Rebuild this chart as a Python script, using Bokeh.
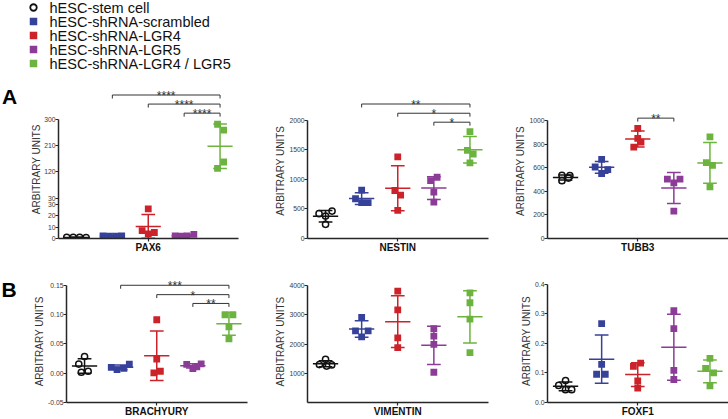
import math
import numpy as np
from bokeh.plotting import figure
from bokeh.models import Range1d, FixedTicker, CustomJSTickFormatter
from bokeh.layouts import row, column
from bokeh.core.properties import value
from bokeh.embed import file_html
from bokeh.resources import INLINE

# ---------------- data ----------------
GROUPS = ["hESC-stem cell", "hESC-shRNA-scrambled", "hESC-shRNA-LGR4",
          "hESC-shRNA-LGR5", "hESC-shRNA-LGR4 / LGR5"]
Y_TITLE = "ARBITRARY UNITS"

PAX6_VALUES = [[1.0, 1.0, 1.0, 0.9], [2.2, 2.0, 2.1, 2.4], [26.2, 7.0, 4.0, 5.3],
               [2.2, 2.0, 2.2, 3.6], [282, 262, 153, 131]]
PAX6_JITTER = [[-0.27, -0.09, 0.09, 0.27], [-0.26, -0.08, 0.1, 0.26], [0.0, -0.17, 0.0, 0.17],
               [-0.25, -0.08, 0.08, 0.27], [-0.07, 0.1, 0.1, -0.07]]
PAX6_TICKS_LOW = [0, 10, 20, 30]
PAX6_TICKS_HIGH = [30, 120, 210, 300]
PAX6_SIG = [(2, 5, "****", 382), (3, 5, "****", 351), (4, 5, "****", 320)]

NESTIN_VALUES = [[419, 379, 463, 240], [815, 671, 604, 604], [1376, 810, 732, 475],
                 [978, 1034, 782, 614], [1805, 1487, 1426, 1275]]
NESTIN_JITTER = [[-0.18, 0, 0.18, 0], [0, -0.17, 0, 0.18], [0, -0.08, 0.08, 0],
                 [-0.09, 0.09, 0, 0], [0, -0.07, 0.09, 0]]
NESTIN_TICKS = [0, 500, 1000, 1500, 2000]
NESTIN_SIG = [(2, 5, "**", 2270), (3, 5, "*", 2114), (4, 5, "*", 1963)]

TUBB3_VALUES = [[536, 532, 490, 512], [670, 606, 584, 551], [933, 849, 816, 774],
                [503, 503, 472, 232], [861, 643, 620, 438]]
TUBB3_JITTER = [[-0.1, 0.12, -0.1, 0.08], [0, -0.18, 0.17, 0], [0, 0, 0.09, -0.11],
                [-0.18, 0.17, 0, 0], [0, -0.1, 0.07, 0]]
TUBB3_TICKS = [0, 200, 400, 600, 800, 1000]
TUBB3_SIG = [(3, 4, "**", 1020)]

BRACHYURY_VALUES = [[0.0285, 0.0155, 0.0016, 0.0033], [0.010, 0.006, 0.0083, 0.0155],
                    [0.0912, 0.024, 0.0033, 0.0004], [0.015, 0.008, 0.011, 0.016],
                    [0.0996, 0.0996, 0.0789, 0.0587]]
BRACHYURY_JITTER = [[0, -0.16, -0.09, 0.1], [-0.26, -0.1, 0.09, 0.24], [0, 0, 0.1, -0.08],
                    [-0.17, 0, 0.11, 0.23], [-0.11, 0.11, 0, 0]]
BRACHYURY_TICKS = [-0.05, 0.0, 0.05, 0.10, 0.15]
BRACHYURY_SIG = [(2, 5, "***", 0.150), (3, 5, "*", 0.134), (4, 5, "**", 0.119)]

VIMENTIN_VALUES = [[1300, 1480, 1290, 1250], [2903, 2447, 2447, 2246], [3798, 3161, 2212, 1877],
                   [2524, 2267, 1988, 1039], [3742, 3406, 2849, 1710]]
VIMENTIN_JITTER = [[-0.17, 0, 0.17, 0.03], [0, -0.17, 0.18, 0], [0, 0, 0, 0],
                   [0, 0, 0, 0], [0, 0, 0, 0]]
VIMENTIN_TICKS = [0, 1000, 2000, 3000, 4000]

FOXF1_VALUES = [[0.0744, 0.0578, 0.0433, 0.0433], [0.2667, 0.129, 0.0956, 0.0956],
                [0.1333, 0.1222, 0.0733, 0.049], [0.311, 0.25, 0.109, 0.0778],
                [0.149, 0.1156, 0.100, 0.0567]]
FOXF1_JITTER = [[0, -0.19, 0, 0.17], [0, 0, -0.14, 0.1], [0.08, -0.12, 0, 0],
                [0, 0, 0, 0], [0, -0.12, 0.1, 0]]
FOXF1_TICKS = [0.0, 0.1, 0.2, 0.3, 0.4]

# ---------------- style ----------------
FONT = "Liberation Sans"
COLORS = ["#111111", "#36419a", "#cc2229", "#8b3c96", "#6cb33f"]
MARKERS = ["circle", "square", "square", "square", "square"]
AXIS_COLOR = "#262626"
UNIT_PX = 36.3


def lin(v1, p1, v2, p2):
    k = (p2 - p1) / (v2 - v1)
    return (lambda v: p1 + (v - v1) * k), (lambda p: v1 + (p - p1) / k)


def blank_fig(x0, x1, y0, y1):
    """A figure without axes whose ranges are page pixels (y downward)."""
    s = figure(width=x1 - x0, height=y1 - y0, output_backend="svg", toolbar_location=None,
               title=None, tools="", x_range=Range1d(x0, x1), y_range=Range1d(y1, y0),
               x_axis_location=None, y_axis_location=None, min_border=0)
    s.outline_line_color = None
    s.grid.visible = False
    s.background_fill_color = "white"
    s.border_fill_color = "white"
    return s


def style_axes(p, positions, labels, gene):
    ya = p.yaxis[0]
    ya.ticker = FixedTicker(ticks=positions, minor_ticks=[])
    ya.formatter = CustomJSTickFormatter(args=dict(pos=positions, labs=labels), code="""
        let best = 0;
        for (let i = 1; i < pos.length; i++) {
            if (Math.abs(pos[i] - tick) < Math.abs(pos[best] - tick)) { best = i; }
        }
        return labs[best];
    """)
    ya.bounds = (min(positions), max(positions))
    xa = p.xaxis[0]
    xa.ticker = FixedTicker(ticks=[3], minor_ticks=[])
    xa.formatter = CustomJSTickFormatter(args=dict(name=gene), code="return name;")
    for ax in (ya, xa):
        ax.axis_line_color = AXIS_COLOR
        ax.axis_line_width = 1.5
        ax.major_tick_line_color = AXIS_COLOR
        ax.major_tick_line_width = 1.2
        ax.major_tick_out = 3
        ax.major_tick_in = 0
        ax.minor_tick_line_color = None
        ax.major_label_standoff = 0
        ax.major_label_text_font = FONT
    ya.major_label_text_font_size = "6.8px"
    ya.major_label_text_color = "#3a3a3a"
    xa.major_label_text_font_size = "10px"
    xa.major_label_text_font_style = "bold"
    xa.major_label_text_color = "#111111"


def build_panel(gene, values, jitter, strip_x0, canvas, frame, vmap, ticks, tick_fmt,
                ylab_x, sig=(), letter=None, upper=None):
    cx, cy, cw, ch = canvas
    fl, ft, fr, fb = frame
    p = figure(width=cw, height=ch, output_backend="svg", toolbar_location=None,
               title=None, tools="",
               min_border_left=fl - cx, min_border_right=cx + cw - fr,
               min_border_top=ft - cy, min_border_bottom=cy + ch - fb,
               x_range=Range1d(0.5, 0.5 + (fr - fl) / UNIT_PX))
    p.outline_line_color = None
    p.grid.visible = False
    p.background_fill_color = "white"
    p.border_fill_color = "white"

    to_page, to_val = lin(*vmap)
    p.y_range = Range1d(to_val(fb), to_val(ft))
    scales = {"default": abs(to_val(1) - to_val(0))}
    up_groups = []
    if upper is not None:
        up_page, up_val = lin(*upper["map"])
        p.extra_y_ranges = {"upper": Range1d(up_val(fb), up_val(ft))}
        scales["upper"] = abs(up_val(1) - up_val(0))
        up_groups = upper["groups"]

    positions = [float(t) for t in ticks]
    labels = [tick_fmt.format(t) for t in ticks]
    if upper is not None:
        for t in upper["ticks"]:
            positions.append(float(to_val(up_page(t))))
            labels.append(tick_fmt.format(t))
    style_axes(p, positions, labels, gene)

    # points + mean / SD bars
    for gi, (vals, jit) in enumerate(zip(values, jitter)):
        kw = {"y_range_name": "upper"} if gi in up_groups else {}
        xs = [gi + 1 + j for j in jit]
        if MARKERS[gi] == "circle":
            p.scatter(xs, vals, marker="circle", size=6.2, fill_color="white",
                      line_color=COLORS[gi], line_width=1.5, **kw)
        else:
            p.scatter(xs, vals, marker="square", size=6.8, fill_color=COLORS[gi],
                      line_color=None, **kw)
        m = float(np.mean(vals))
        s = float(np.std(vals, ddof=1))
        c = gi + 1
        p.segment(x0=[c, c - 0.19, c - 0.19, c - 0.35],
                  y0=[m - s, m - s, m + s, m],
                  x1=[c, c + 0.19, c + 0.19, c + 0.35],
                  y1=[m + s, m - s, m + s, m],
                  line_color=COLORS[gi], line_width=1.5, **kw)

    # significance brackets
    rname = "upper" if upper is not None else "default"
    kw = {"y_range_name": "upper"} if upper is not None else {}
    vpp = scales[rname]
    for (a, b, lab, h) in sig:
        t = 3.5 * vpp
        p.segment(x0=[a, a, b], y0=[h, h, h], x1=[b, a, b], y1=[h, h - t, h - t],
                  line_color="#333333", line_width=1, **kw)
        p.text(x=[(a + b) / 2], y=[h - 1.0 * vpp], text=[lab], text_align="center",
               text_baseline="alphabetic", text_font=value(FONT),
               text_font_size="12px", text_color="#333333", **kw)

    # strip to the left: y title (and panel letter)
    st = blank_fig(strip_x0, cx, cy, cy + ch)
    ymid_page = to_page((min(positions) + max(positions)) / 2)
    st.text(x=[ylab_x], y=[ymid_page], text=[Y_TITLE], angle=math.pi / 2,
            text_align="center", text_baseline="middle", text_font=value(FONT),
            text_font_size="10px", text_color="#333333")
    if letter is not None:
        txt, lx, lbase = letter
        st.text(x=[lx], y=[lbase], text=[txt], text_align="left",
                text_baseline="alphabetic", text_font=value(FONT),
                text_font_style="bold", text_font_size="21px", text_color="#000000")
    return [st, p]


# ---------------- layout (page pixels) ----------------
RA = (76, 182)   # row A: top, height
RB = (258, 161)  # row B: top, height

pax6 = build_panel("PAX6", PAX6_VALUES, PAX6_JITTER, 0, (41, RA[0], 219, RA[1]),
                   (56, 80, 238, 238), (0, 238, 30, 204), PAX6_TICKS_LOW, "{:.0f}", 35.5,
                   sig=PAX6_SIG, letter=("A", 1.5, 95),
                   upper=dict(map=(30, 197.5, 300, 118.5), ticks=PAX6_TICKS_HIGH, groups=[4]))
nestin = build_panel("NESTIN", NESTIN_VALUES, NESTIN_JITTER, 260, (286, RA[0], 214, RA[1]),
                     (306, 80, 488, 240), (0, 240, 2000, 120), NESTIN_TICKS, "{:.0f}", 279.7,
                     sig=NESTIN_SIG)
tubb3 = build_panel("TUBB3", TUBB3_VALUES, TUBB3_JITTER, 500, (526, RA[0], 202, RA[1]),
                    (546, 80, 728, 240), (0, 240, 1000, 120.5), TUBB3_TICKS, "{:.0f}", 519.7,
                    sig=TUBB3_SIG)
brach = build_panel("BRACHYURY", BRACHYURY_VALUES, BRACHYURY_JITTER, 0, (45, RB[0], 215, RB[1]),
                    (65, 270, 247, 404), (-0.05, 404, 0.15, 285), BRACHYURY_TICKS, "{:.2f}", 39.2,
                    sig=BRACHYURY_SIG, letter=("B", 1.0, 281.5))
vim = build_panel("VIMENTIN", VIMENTIN_VALUES, VIMENTIN_JITTER, 260, (286, RB[0], 214, RB[1]),
                  (306, 270, 488, 404), (0, 404.3, 4000, 285), VIMENTIN_TICKS, "{:.0f}", 279.7)
foxf1 = build_panel("FOXF1", FOXF1_VALUES, FOXF1_JITTER, 500, (532, RB[0], 196, RB[1]),
                    (546, 270, 728, 404), (0, 404, 0.4, 284), FOXF1_TICKS, "{:.1f}", 525.5)

# ---------------- legend (its own strip, page-pixel coordinates) ----------------
lg = blank_fig(0, 728, 0, 76)
ROW0, ROW_STEP, MARK_X, TEXT_X = 7, 14, 33, 49
for gi, g in enumerate(GROUPS):
    yy = ROW0 + ROW_STEP * gi
    if MARKERS[gi] == "circle":
        lg.scatter([MARK_X], [yy], marker="circle", size=6.5, fill_color="white",
                   line_color=COLORS[gi], line_width=1.8)
    else:
        lg.scatter([MARK_X], [yy], marker="square", size=7.5, fill_color=COLORS[gi],
                   line_color=None)
    lg.text(x=[TEXT_X], y=[yy], text=[g], text_align="left", text_baseline="middle",
            text_font=value(FONT), text_font_size="14.5px", text_color="#111111")

layout = column(lg, row(*pax6, *nestin, *tubb3), row(*brach, *vim, *foxf1))
open("out.html", "w").write(file_html(layout, INLINE))
